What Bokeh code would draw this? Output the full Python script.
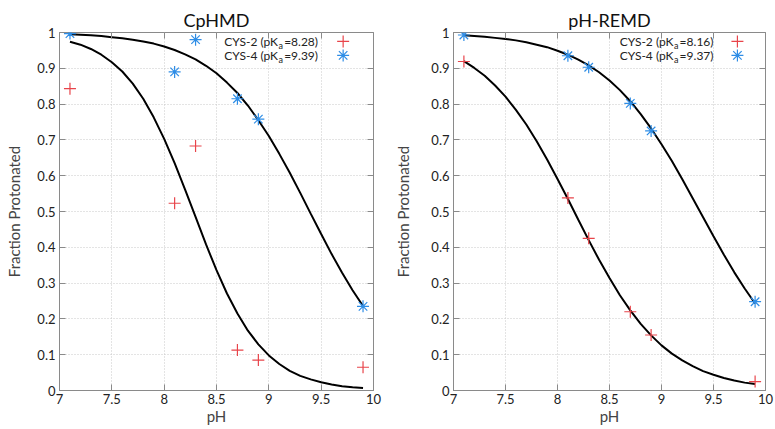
from bokeh.plotting import figure
from bokeh.layouts import row
from bokeh.models import LinearAxis, Label, CustomJSTickFormatter, FixedTicker, Range1d
from bokeh.embed import file_html
from bokeh.resources import INLINE

# ---- data ----
ph_points = [7.1, 8.1, 8.3, 8.7, 8.9, 9.9]

cphmd_cys2 = [0.843, 0.523, 0.683, 0.113, 0.085, 0.065]
cphmd_cys4 = [0.997, 0.890, 0.980, 0.815, 0.758, 0.235]
remd_cys2 = [0.919, 0.538, 0.425, 0.220, 0.155, 0.025]
remd_cys4 = [0.993, 0.935, 0.903, 0.802, 0.725, 0.248]

ph_curve = [7.1, 7.2, 7.3, 7.4, 7.5, 7.6, 7.7, 7.8, 7.9, 8.0,
            8.1, 8.2, 8.3, 8.4, 8.5, 8.6, 8.7, 8.8, 8.9, 9.0,
            9.1, 9.2, 9.3, 9.4, 9.5, 9.6, 9.7, 9.8, 9.9]
cphmd_fit2 = [0.974, 0.966, 0.954, 0.938, 0.917, 0.891, 0.857, 0.815, 0.763, 0.703,
              0.635, 0.561, 0.485, 0.408, 0.336, 0.271, 0.215, 0.167, 0.129, 0.098,
              0.074, 0.055, 0.041, 0.031, 0.023, 0.017, 0.012, 0.009, 0.007]
cphmd_fit4 = [0.995, 0.994, 0.992, 0.990, 0.987, 0.984, 0.980, 0.975, 0.969, 0.961,
              0.951, 0.939, 0.925, 0.907, 0.886, 0.860, 0.831, 0.796, 0.755, 0.711,
              0.661, 0.608, 0.552, 0.494, 0.437, 0.381, 0.329, 0.280, 0.236]
remd_fit2 = [0.920, 0.901, 0.879, 0.852, 0.821, 0.784, 0.743, 0.696, 0.645, 0.591,
             0.535, 0.477, 0.420, 0.365, 0.314, 0.266, 0.224, 0.186, 0.154, 0.126,
             0.103, 0.084, 0.068, 0.054, 0.044, 0.035, 0.028, 0.022, 0.018]
remd_fit4 = [0.992, 0.990, 0.988, 0.985, 0.982, 0.978, 0.973, 0.966, 0.959, 0.949,
             0.938, 0.924, 0.908, 0.889, 0.866, 0.839, 0.808, 0.772, 0.732, 0.688,
             0.641, 0.590, 0.537, 0.484, 0.431, 0.379, 0.330, 0.285, 0.243]

x_ticks = [7, 7.5, 8, 8.5, 9, 9.5, 10]
y_ticks = [0, 0.1, 0.2, 0.3, 0.4, 0.5, 0.6, 0.7, 0.8, 0.9, 1]

series_names = ["CYS-2", "CYS-4"]
cphmd_pka = ["8.28", "9.39"]
remd_pka = ["8.16", "9.37"]

RED = "#e8444a"
BLUE = "#2e8de6"
GRAY = "#8a8a8a"
FONT = "Lato"

fmt = CustomJSTickFormatter(code="return tick.toFixed(1).replace(/\\.0$/, '');")


def mirror_axis(ticks):
    return LinearAxis(ticker=FixedTicker(ticks=ticks), major_label_text_font_size="1px",
                      major_label_text_color=None, axis_line_color=None,
                      major_tick_line_color=GRAY, major_tick_in=6, major_tick_out=0,
                      minor_tick_line_color=None, major_label_standoff=0)


def panel(title, c2, c4, f2, f4, pkas, width, bl, br, ylab_standoff,
          leg_text_x, leg_mark_x):
    p = figure(width=width, height=428, output_backend="svg", toolbar_location=None,
               x_range=Range1d(7, 10), y_range=Range1d(0, 1),
               min_border_left=bl, min_border_right=br, min_border_top=32,
               min_border_bottom=38)
    p.title.text = title
    p.title.align = "center"
    p.title.text_font = FONT
    p.title.text_font_size = "18px"
    p.title.text_font_style = "normal"
    p.title.text_color = "#111111"
    p.title.standoff = 4
    p.outline_line_color = GRAY
    p.outline_line_width = 1

    for ax in (p.xaxis[0], p.yaxis[0]):
        ax.axis_line_color = GRAY
        ax.major_tick_line_color = GRAY
        ax.major_tick_in = 6
        ax.major_tick_out = 0
        ax.minor_tick_line_color = None
        ax.major_label_text_font = FONT
        ax.major_label_text_font_size = "13px"
        ax.major_label_text_color = "#222222"
        ax.axis_label_text_font = FONT
        ax.axis_label_text_font_size = "15px"
        ax.axis_label_text_font_style = "normal"
        ax.axis_label_standoff = 0
        ax.major_label_standoff = 4
        ax.formatter = fmt
    p.xaxis[0].major_label_standoff = 3
    p.yaxis[0].axis_label_standoff = ylab_standoff
    p.xaxis[0].ticker = FixedTicker(ticks=x_ticks)
    p.yaxis[0].ticker = FixedTicker(ticks=y_ticks)
    p.xaxis[0].axis_label = "pH"
    p.yaxis[0].axis_label = "Fraction Protonated"

    p.add_layout(mirror_axis(x_ticks), "above")
    p.add_layout(mirror_axis(y_ticks), "right")

    p.xgrid.grid_line_color = "#c8c8c8"
    p.ygrid.grid_line_color = "#c8c8c8"
    p.xgrid.grid_line_dash = "1 2"
    p.ygrid.grid_line_dash = "1 2"

    p.line(ph_curve, f2, line_color="black", line_width=2)
    p.line(ph_curve, f4, line_color="black", line_width=2)
    p.scatter(ph_points, c2, marker="cross", size=12, line_color=RED, line_width=1.2)
    p.scatter(ph_points, c4, marker="asterisk", size=12, line_color=BLUE, line_width=1.2)

    # legend (gnuplot style: text then marker), "pK" with subscript "a"
    tail_w = 35
    sub_w = 5
    for i, (name, pka, col, mk) in enumerate(zip(series_names, pkas, [RED, BLUE],
                                                  ["cross", "asterisk"])):
        yy = 0.975 - i * 0.039
        common = dict(x=leg_text_x, y=yy, text_align="right", text_baseline="middle",
                      text_font=FONT, text_color="#222222")
        p.add_layout(Label(text="=" + pka + ")", text_font_size="12px", **common))
        p.add_layout(Label(text="a", text_font_size="9px", x_offset=-tail_w,
                           y_offset=-4, **common))
        p.add_layout(Label(text=name + " (pK", text_font_size="12px",
                           x_offset=-(tail_w + sub_w), **common))
        p.scatter([leg_mark_x], [yy], marker=mk, size=12, line_color=col, line_width=1.2)
    return p


p1 = panel("CpHMD", cphmd_cys2, cphmd_cys4, cphmd_fit2, cphmd_fit4, cphmd_pka,
           386, 59, 13, 11, 9.47, 9.71)
p2 = panel("pH-REMD", remd_cys2, remd_cys4, remd_fit2, remd_fit4, remd_pka,
           388, 67, 9, 16, 9.5, 9.73)

layout = row(p1, p2, spacing=0)
open("out.html", "w").write(file_html(layout, INLINE))
